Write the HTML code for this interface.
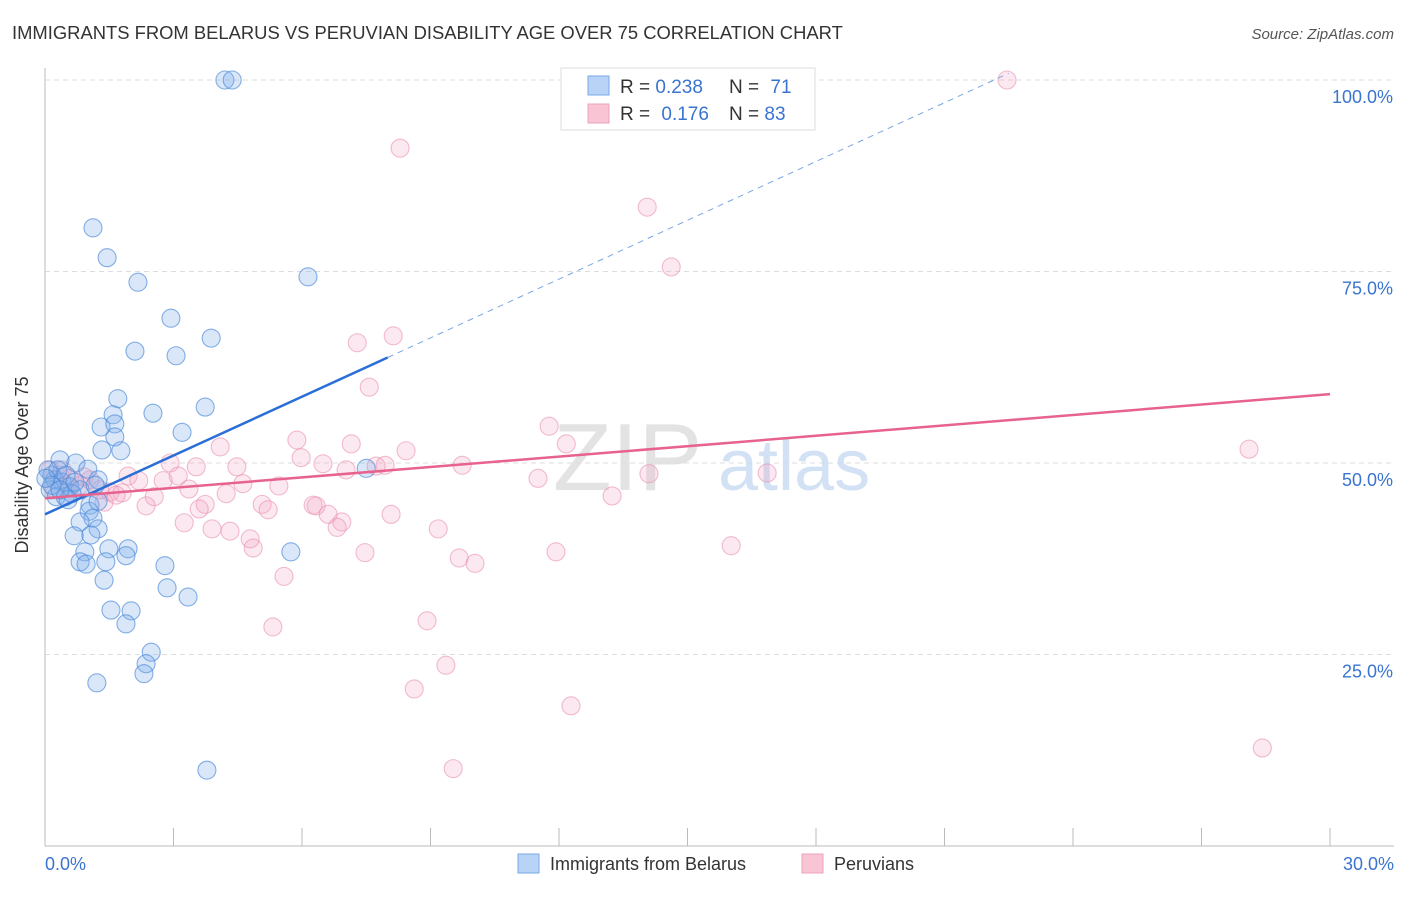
<!DOCTYPE html>
<html><head><meta charset="utf-8"><style>
body{margin:0;background:#fff;font-family:"Liberation Sans",sans-serif;}
svg text{font-family:"Liberation Sans",sans-serif;}
</style></head><body>
<svg id="chart" width="1406" height="892">
<text x="12" y="39" font-size="18.4" fill="#333">IMMIGRANTS FROM BELARUS VS PERUVIAN DISABILITY AGE OVER 75 CORRELATION CHART</text>
<text x="1394" y="39" font-size="15" fill="#555" font-style="italic" text-anchor="end">Source: ZipAtlas.com</text>
<g id="grid"></g>
<g><text x="553" y="490" font-size="96" font-family="Liberation Serif" fill="#ddd" opacity="0.8">ZIP</text><text x="718" y="490" font-size="72" fill="#c8daf2" opacity="0.8">atlas</text></g>
<g id="axes"></g>
<g id="pts"></g>
<g id="trends"></g>
<text x="18" y="455" font-size="18" fill="#333" text-anchor="middle" transform="rotate(-90 28 455)">Disability Age Over 75</text>
<text x="45" y="870" font-size="18" fill="#3a74d0">0.0%</text>
<text x="1394" y="870" font-size="18" fill="#3a74d0" text-anchor="end">30.0%</text>
<g>
<rect x="561" y="68" width="254" height="62" fill="#fff" stroke="#ddd"/>
<rect x="588" y="76" width="21" height="19" fill="#b8d3f5" stroke="#7aaae8"/>
<rect x="588" y="104" width="21" height="19" fill="#f9c5d5" stroke="#eba3bb"/>
<text x="620" y="93" font-size="19" fill="#333">R = <tspan fill="#3a74d0">0.238</tspan></text>
<text x="729" y="93" font-size="19" fill="#333">N = <tspan fill="#3a74d0" dx="6">71</tspan></text>
<text x="620" y="120" font-size="19" fill="#333">R = <tspan fill="#3a74d0" dx="6">0.176</tspan></text>
<text x="729" y="120" font-size="19" fill="#333">N = <tspan fill="#3a74d0">83</tspan></text>
</g>
<g>
<rect x="518" y="854" width="21" height="19" fill="#b8d3f5" stroke="#7aaae8"/>
<text x="550" y="870" font-size="18" fill="#333">Immigrants from Belarus</text>
<rect x="802" y="854" width="21" height="19" fill="#f9c5d5" stroke="#eba3bb"/>
<text x="834" y="870" font-size="18" fill="#333">Peruvians</text>
</g>
</svg>
<script>
const yTicks=[25,50,75,100];
const yTickLabels=["25.0%","50.0%","75.0%","100.0%"];
const xTicks=[0,3,6,9,12,15,18,21,24,27,30];
const blueX=[4.20,4.37,1.12,1.45,2.17,6.14,2.94,3.88,2.10,3.06,1.70,3.74,1.59,2.52,1.31,1.63,1.63,1.33,1.77,3.20,7.50,0.35,0.72,1.00,1.24,0.16,0.23,0.40,0.58,0.82,0.12,0.26,0.47,0.63,1.05,0.54,1.03,1.12,0.82,1.24,1.07,0.68,0.93,1.49,1.94,1.89,0.82,0.96,1.42,2.80,1.38,2.85,3.34,5.74,1.54,2.01,1.89,2.48,2.36,2.31,1.21,3.78,0.07,0.30,0.49,0.16,0.35,0.70,1.17,0.02,1.24];
const blueY=[100,100,80.7,76.8,73.6,74.3,68.9,66.3,64.6,64.0,58.4,57.3,56.3,56.5,54.7,55.1,53.4,51.7,51.6,54.0,49.3,50.4,50.0,49.2,47.8,48.4,47.8,47.5,46.9,46.5,46.5,45.6,45.6,46.0,44.5,45.2,43.7,42.8,42.3,41.4,40.6,40.5,38.4,38.8,38.8,37.9,37.1,36.8,37.1,36.6,34.7,33.7,32.5,38.4,30.8,30.7,29.0,25.3,23.8,22.5,21.3,9.9,49.1,49.1,48.4,47.1,46.5,47.5,47.1,48.0,45.0];
const pinkX=[22.46,14.43,16.35,8.29,14.06,14.62,8.13,7.29,7.57,11.77,12.17,28.11,5.88,7.15,4.09,8.43,5.98,2.92,4.48,3.53,6.49,7.03,7.73,7.94,9.74,11.51,14.10,16.86,1.94,2.19,2.76,3.11,3.36,4.62,5.46,4.23,5.07,3.74,3.60,6.26,6.33,6.61,6.93,6.82,8.08,5.21,2.55,2.36,3.25,3.90,4.32,4.79,4.86,9.18,7.47,9.67,10.04,11.93,16.02,5.58,13.24,5.32,8.92,9.36,8.62,12.28,9.53,28.42,1.52,1.38,1.80,1.66,0.12,0.35,0.58,0.82,1.05,0.23,0.40,0.54,1.28,0.91];
const pinkY=[100,100,100,91.1,83.4,75.6,66.6,65.7,59.9,54.8,52.5,51.8,53.0,52.5,52.1,51.6,50.7,50.0,49.5,49.5,49.9,49.1,49.6,49.7,49.7,48.0,48.6,48.7,48.3,47.7,47.7,48.3,46.6,47.3,47.0,46.0,44.6,44.6,44.0,44.5,44.4,43.3,42.3,41.6,43.3,43.9,45.6,44.4,42.2,41.4,41.1,40.1,38.9,41.4,38.3,37.6,36.9,38.4,39.2,35.2,45.7,28.6,29.4,23.6,20.5,18.3,10.1,12.8,46.2,44.9,46.1,45.8,49.1,48.4,48.0,47.1,47.8,46.5,49.1,47.0,46.5,48.2];
const blueTrend=[43.3,2.559];
const pinkTrend=[45.4,0.453];
const NS="http://www.w3.org/2000/svg";
const X=v=>45+v/30*1285, Y=v=>846-v/100*766;
function mk(tag,attrs,parent){const e=document.createElementNS(NS,tag);for(const k in attrs)e.setAttribute(k,attrs[k]);parent.appendChild(e);return e;}
const grid=document.getElementById('grid'),axes=document.getElementById('axes'),pts=document.getElementById('pts'),tr=document.getElementById('trends');
yTicks.forEach((t,i)=>{
 const l=mk('line',{x1:45,x2:1394,y1:Y(t),y2:Y(t),stroke:'#ddd','stroke-dasharray':'5,4'},grid);
 
 
 const tx=mk('text',{x:1393,y:Y(t)+23,'font-size':18,fill:'#3a74d0','text-anchor':'end'},axes);
 tx.textContent=yTickLabels[i];
 
 
});
mk('line',{x1:45,x2:45,y1:68,y2:846,stroke:'#bbb'},axes);
mk('line',{x1:45,x2:1394,y1:846,y2:846,stroke:'#bbb'},axes);
xTicks.forEach(t=>{const l=mk('line',{x1:X(t),x2:X(t),y1:828,y2:846,stroke:'#bbb'},axes);
 
 });
function dots(xs,ys,fill,stroke,name){xs.forEach((x,i)=>{const c=mk('circle',{cx:X(x),cy:Y(ys[i]),r:9,fill:fill,stroke:stroke,'stroke-width':1.1},pts);
 
 });}
dots(pinkX,pinkY,'rgba(245,165,195,0.25)','rgba(232,145,175,0.6)','peruvian-point');
dots(blueX,blueY,'rgba(130,175,235,0.3)','rgba(70,135,215,0.65)','belarus-point');
const bl=mk('line',{x1:X(0),y1:Y(blueTrend[0]),x2:X(8),y2:Y(blueTrend[0]+blueTrend[1]*8),stroke:'#2a6fd6','stroke-width':2.5},tr);


const bd=mk('line',{x1:X(8),y1:Y(blueTrend[0]+blueTrend[1]*8),x2:X(22.5),y2:Y(blueTrend[0]+blueTrend[1]*22.5),stroke:'#7aa6e0','stroke-width':1,'stroke-dasharray':'6,5'},tr);


const pl=mk('line',{x1:X(0),y1:Y(pinkTrend[0]),x2:X(30),y2:Y(pinkTrend[0]+pinkTrend[1]*30),stroke:'#e8628e','stroke-width':2.5},tr);


</script>
</body></html>
